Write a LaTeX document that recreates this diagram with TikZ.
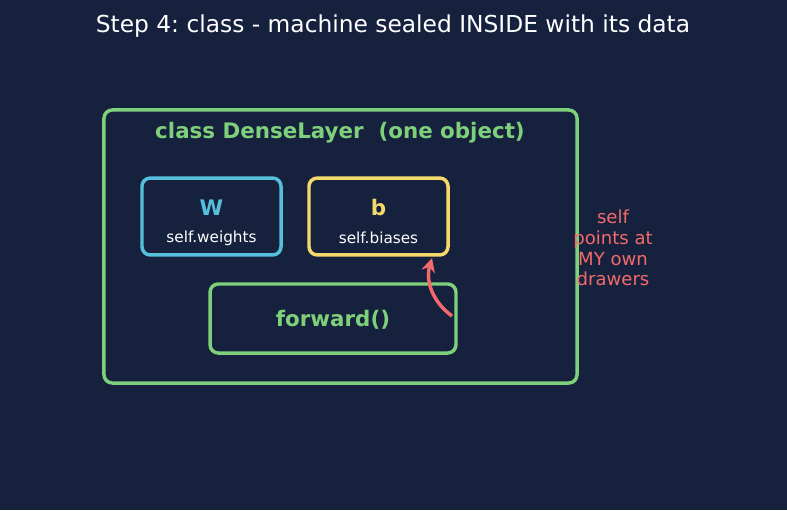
\documentclass[tikz,border=0pt]{standalone}
\usepackage{fontspec}
\setmainfont{DejaVu Sans}
\usetikzlibrary{positioning, arrows.meta}
\definecolor{bgnavy}{HTML}{16213E}
\definecolor{leafgreen}{HTML}{7ED17A}
\definecolor{skycyan}{HTML}{56C0DC}
\definecolor{sunyellow}{HTML}{F6D96B}
\definecolor{coralred}{HTML}{F26A6A}
\tikzset{
  drawer/.style = {draw, line width=2.5pt, rounded corners=6pt, inner sep=0},
  fieldname/.style = {font=\fontsize{15.4}{18}\selectfont\bfseries},
  fieldvar/.style = {text=white, font=\fontsize{11}{13}\selectfont},
}
\frenchspacing

\begin{document}
\begin{tikzpicture}[x=0.72pt, y=-0.72pt]
        % background, page size fixed by it
        \fill [bgnavy] (0,0) rectangle (787,510);
        \useasboundingbox (0,0) rectangle (787,510);

        \node (title) [text=white, font=\fontsize{16.8}{20}\selectfont] at (393,26)
          {Step 4: class - machine sealed INSIDE with its data};

        % the object = one big drawer holding the rest
        \node (object) [drawer, leafgreen, minimum width=340.6pt, minimum height=196.6pt] at (340.5,246.5) {};
        \node (classname) [fieldname, text=leafgreen] at (340,133) {class DenseLayer\ \ (one object)};

        \foreach \X/\n/\v/\c/\x in {
          W/W/self.weights/skycyan/211.5,
          B/b/self.biases/sunyellow/378.5%
        }{
          \node (box\X) [drawer, \c, minimum width=100.1pt, minimum height=55.4pt] at (\x,216.5) {};
          \node (name\X) [fieldname, text=\c] at (\x,208) {\n};
          \node (var\X) [fieldvar] at (\x,238) {\v};
        }

        \node (forward) [drawer, leafgreen, minimum width=177.1pt, minimum height=49.7pt] at (333,318.5) {};
        \node (forwardname) [fieldname, text=leafgreen] at (333,320) {forward()};

        \node (selfnote) [text=coralred, align=center, font=\fontsize{13}{14.9}\selectfont] at (613,248)
          {self\\points at\\MY own\\drawers};

        \coordinate (callfrom) at (452,316);
        \coordinate (callto) at (432,258);
        \draw [coralred, line width=2.5pt, -{Stealth[length=10pt, width=10pt]}]
          (callfrom) to[bend left=35] (callto);
      \end{tikzpicture}
\end{document}
